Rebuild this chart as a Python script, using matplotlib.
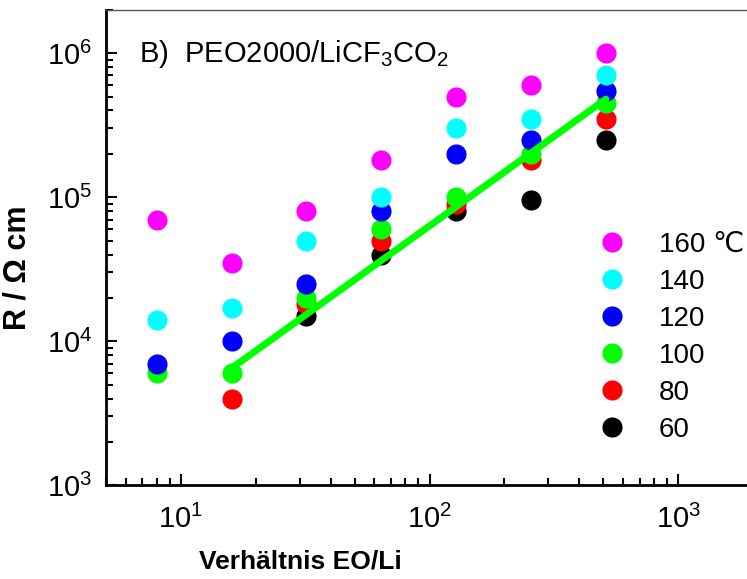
import matplotlib
matplotlib.use("Agg")
import matplotlib.pyplot as plt

plt.rcParams["font.family"] = ["Liberation Sans", "DejaVu Sans"]
plt.rcParams["mathtext.fontset"] = "custom"
plt.rcParams["mathtext.rm"] = "Liberation Sans"
plt.rcParams["mathtext.it"] = "Liberation Sans"

# EO/Li ratio
eo_li = [8, 16, 32, 64, 128, 256, 512]
# resistance in Ohm cm per temperature (None = no point)
r_160 = [7.0e4, 3.5e4, 8.0e4, 1.8e5, 5.0e5, 6.0e5, 1.0e6]
r_140 = [1.4e4, 1.7e4, 5.0e4, 1.0e5, 3.0e5, 3.5e5, 7.0e5]
r_120 = [7.0e3, 1.0e4, 2.5e4, 8.0e4, 2.0e5, 2.5e5, 5.5e5]
r_100 = [6.0e3, 6.0e3, 2.0e4, 6.0e4, 1.0e5, 2.0e5, 4.5e5]
r_80 = [None, 4.0e3, 1.8e4, 5.0e4, 9.0e4, 1.8e5, 3.5e5]
r_60 = [None, None, 1.5e4, 4.0e4, 8.0e4, 9.5e4, 2.5e5]
# linear fit of the 100 C series
fit_x = [16, 512]
fit_y = [6.5e3, 4.8e5]

series = [
    ("60", r_60, "#000000"),
    ("80", r_80, "#ff0000"),
    ("100", r_100, "#00ff00"),
    ("120", r_120, "#0000ff"),
    ("140", r_140, "#00ffff"),
    ("160 \u2103", r_160, "#ff00ff"),
]

fig = plt.figure(figsize=(7.47, 5.79), dpi=100)
ax = fig.add_axes([0.142, 0.162, 0.866, 0.821])

handles = []
for label, vals, color in series:
    xs = [x for x, v in zip(eo_li, vals) if v is not None]
    ys = [v for v in vals if v is not None]
    h, = ax.plot(xs, ys, "o", color=color, markersize=14.5, label=label,
                 markeredgewidth=0)
    handles.append(h)

ax.plot(fit_x, fit_y, "-", color="#00ff00", linewidth=5, solid_capstyle="round")

ax.set_xscale("log")
ax.set_yscale("log")
ax.set_xlim(5, 2000)
ax.set_ylim(1e3, 2e6)

ax.tick_params(which="both", direction="in", width=1.5, labelsize=21)
ax.tick_params(which="major", length=8)
ax.tick_params(which="minor", length=5)
ax.tick_params(axis="y", pad=10)
ax.tick_params(axis="x", pad=14)
for s in ["left", "bottom"]:
    ax.spines[s].set_linewidth(2)
ax.spines["top"].set_color("#555555")
ax.spines["top"].set_linewidth(1)

ax.set_xlabel("Verh\u00e4ltnis EO/Li", fontsize=19, fontweight="bold")
ax.xaxis.set_label_coords(0.30, -0.135)
ax.set_ylabel("R / \u03a9 cm", fontsize=22, fontweight="bold")
ax.yaxis.set_label_coords(-0.113, 0.457)

ax.text(0.051, 0.908, "B)  PEO2000/LiCF$_3$CO$_2$", transform=ax.transAxes,
        fontsize=21, va="center")

ax.legend(handles[::-1], [h.get_label() for h in handles[::-1]],
          loc="upper left", bbox_to_anchor=(0.743, 0.557), frameon=False,
          fontsize=20, handlelength=1.0, handletextpad=1.2, labelspacing=0.40,
          borderaxespad=0)

fig.savefig("out.png", dpi=100)
